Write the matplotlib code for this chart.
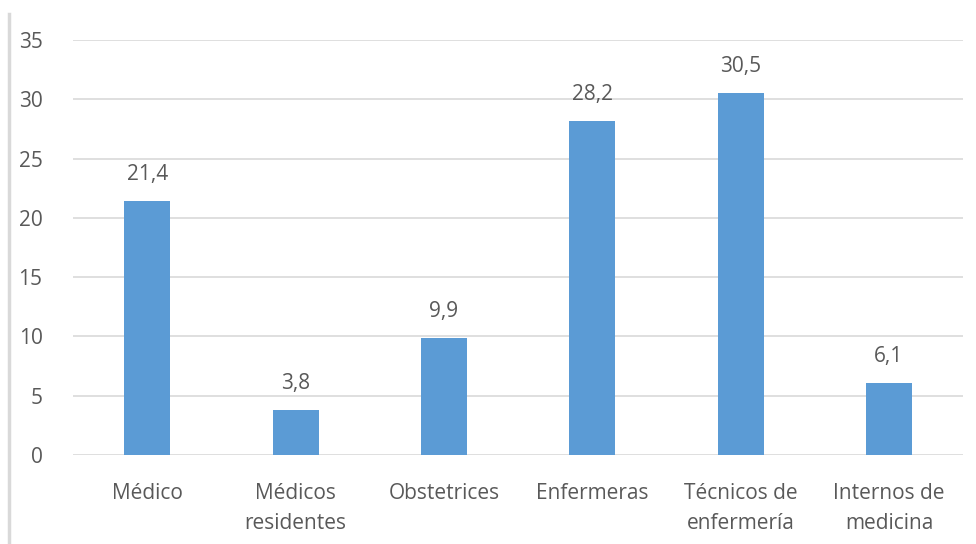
import matplotlib
matplotlib.use("Agg")
import matplotlib.pyplot as plt
from matplotlib.lines import Line2D

categories = ["Médico", "Médicos\nresidentes", "Obstetrices", "Enfermeras",
              "Técnicos de\nenfermería", "Internos de\nmedicina"]
values = [21.4, 3.8, 9.9, 28.2, 30.5, 6.1]
yticks = [0, 5, 10, 15, 20, 25, 30, 35]

plt.rcParams['font.family'] = ['Open Sans', 'DejaVu Sans']
txt = '#595959'

fig = plt.figure(figsize=(9.76, 5.44), dpi=100)
ax = fig.add_axes([0.0748, 0.1636, 0.912, 0.7629])
x = list(range(len(categories)))
ax.bar(x, values, width=0.31, color='#5B9BD5', zorder=3)
for xi, v in zip(x, values):
    ax.text(xi, v + 1.35, f"{v:.1f}".replace('.', ','), ha='center', va='bottom',
            fontsize=15, color=txt)
ax.set_xlim(-0.5, len(categories) - 0.5)
ax.set_ylim(0, 35)
ax.set_yticks(yticks)
ax.set_yticklabels([str(t) for t in yticks], fontsize=15, color=txt)
ax.set_xticks(x)
ax.set_xticklabels(categories, fontsize=15, color=txt, linespacing=1.6)
ax.tick_params(axis='both', length=0)
ax.tick_params(axis='y', pad=22)
ax.tick_params(axis='x', pad=20)
ax.grid(axis='y', color='#D9D9D9', linewidth=1.2, zorder=0)
for s in ax.spines.values():
    s.set_visible(False)
fig.add_artist(Line2D([0.0092, 0.0092], [0.0, 0.975], color='#D9D9D9', linewidth=2.5))
fig.savefig('out.png', dpi=100)
